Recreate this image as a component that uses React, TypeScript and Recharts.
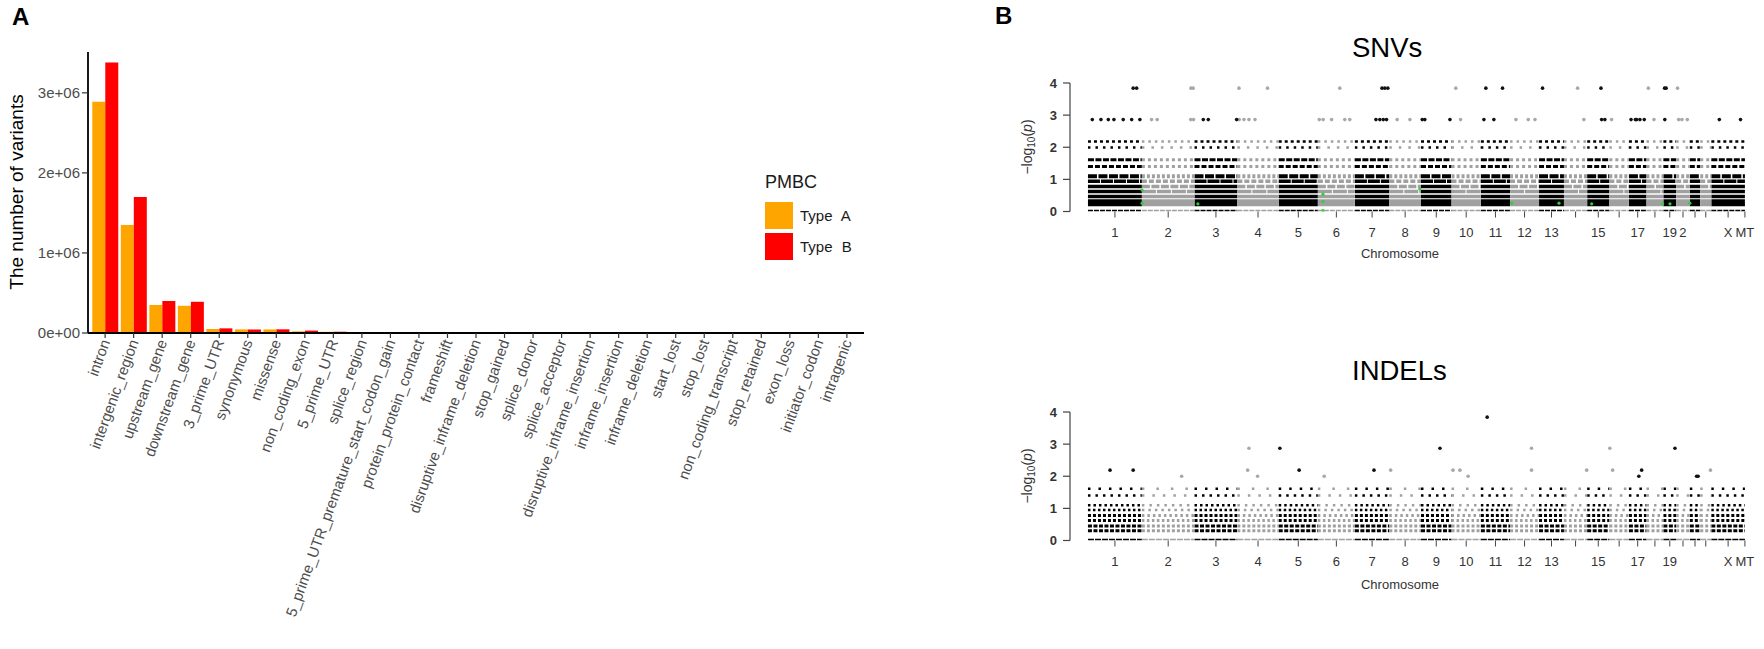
import React from "react";
import {
  BarChart,
  Bar,
  XAxis,
  YAxis,
  Legend,
  ComposedChart,
  Line,
  Scatter,
} from "recharts";

// ---- Panel A: variant classes ----
const VARIANT_CLASSES = [
  "intron",
  "intergenic_region",
  "upstream_gene",
  "downstream_gene",
  "3_prime_UTR",
  "synonymous",
  "missense",
  "non_coding_exon",
  "5_prime_UTR",
  "splice_region",
  "5_prime_UTR_premature_start_codon_gain",
  "protein_protein_contact",
  "frameshift",
  "disruptive_inframe_deletion",
  "stop_gained",
  "splice_donor",
  "splice_acceptor",
  "disruptive_inframe_insertion",
  "inframe_insertion",
  "inframe_deletion",
  "start_lost",
  "stop_lost",
  "non_coding_transcript",
  "stop_retained",
  "exon_loss",
  "initiator_codon",
  "intragenic",
];
const TYPE_A_COUNTS = [
  2890000, 1350000, 350000, 340000, 50000, 45000, 45000, 21000, 15000, 9000,
  3000, 1500, 1200, 300, 500, 500, 400, 200, 150, 150, 80, 60, 50, 40, 20, 10, 5,
];
const TYPE_B_COUNTS = [
  3380000, 1700000, 400000, 390000, 58000, 44000, 46000, 30000, 16000, 10000,
  3500, 1800, 1400, 400, 600, 550, 450, 250, 200, 200, 100, 70, 60, 50, 25, 12, 6,
];
const COUNT_TICKS = [0, 1000000, 2000000, 3000000];

// ---- Panel B: chromosomes (hg19 lengths, Mb) ----
const CHROMOSOMES = [
  "1", "2", "3", "4", "5", "6", "7", "8", "9", "10", "11", "12",
  "13", "14", "15", "16", "17", "18", "19", "20", "21", "22", "X", "MT",
];
const CHROM_LENGTH_MB = [
  249.25, 243.2, 198.02, 191.15, 180.92, 171.12, 159.14, 146.36, 141.21,
  135.53, 135.01, 133.85, 115.17, 107.35, 102.53, 90.35, 81.2, 78.08, 59.13,
  63.03, 48.13, 51.3, 155.27, 0.02,
];
const SNV_TICK_LABELS = [
  "1", "2", "3", "4", "5", "6", "7", "8", "9", "10", "11", "12",
  "13", "", "15", "", "17", "", "19", "2", "", "", "X", "MT",
];
const INDEL_TICK_LABELS = [
  "1", "2", "3", "4", "5", "6", "7", "8", "9", "10", "11", "12",
  "13", "", "15", "", "17", "", "19", "", "", "", "X", "MT",
];
const P_TICKS = [0, 1, 2, 3, 4];

// -log10(p) levels that form dense stripes in every chromosome
const SNV_BAND_LEVELS = [0.03, 0.27, 0.47, 0.62, 0.78, 0.94, 1.1, 1.4, 1.61, 1.99, 2.18];
const INDEL_BAND_LEVELS = [0.03, 0.3, 0.45, 0.62, 0.78, 0.95, 1.1, 1.4, 1.61];

// isolated points: [cumulative position (Mb), -log10(p)]
const SNV_SPARSE: [number, number][] = [
  [209, 3.84], [225, 3.84], [476, 3.84], [486, 3.84], [698, 3.84], [830, 3.84],
  [1164, 3.84], [1359, 3.84], [1372, 3.84], [1386, 3.84], [1700, 3.84],
  [1839, 3.84], [1916, 3.84], [2101, 3.84], [2263, 3.84], [2371, 3.84],
  [2590, 3.84], [2665, 3.84], [2672, 3.84], [2725, 3.84],
  [20, 2.86], [60, 2.86], [94, 2.86], [120, 2.86], [163, 2.86], [202, 2.86],
  [240, 2.86], [294, 2.86], [320, 2.86], [475, 2.86], [488, 2.86], [533, 2.86],
  [556, 2.86], [687, 2.86], [699, 2.86], [721, 2.86], [744, 2.86], [772, 2.86],
  [1069, 2.86], [1087, 2.86], [1126, 2.86], [1187, 2.86], [1210, 2.86],
  [1331, 2.86], [1349, 2.86], [1365, 2.86], [1380, 2.86], [1429, 2.86],
  [1488, 2.86], [1545, 2.86], [1557, 2.86], [1673, 2.86], [1722, 2.86],
  [1830, 2.86], [1876, 2.86], [1978, 2.86], [2035, 2.86], [2066, 2.86],
  [2292, 2.86], [2374, 2.86], [2389, 2.86], [2420, 2.86], [2510, 2.86],
  [2530, 2.86], [2536, 2.86], [2551, 2.86], [2571, 2.86], [2616, 2.86],
  [2666, 2.86], [2730, 2.86], [2745, 2.86], [2770, 2.86], [2918, 2.86],
  [3016, 2.86],
];
const SNV_HIGHLIGHT: [number, number][] = [
  [250, 0.67], [250, 0.26], [508, 0.24], [1086, 0.54], [1086, 0.31],
  [1086, 0.03], [1534, 0.7], [1958, 0.26], [2177, 0.26], [2328, 0.24],
  [2656, 0.24], [2690, 0.24], [2782, 0.26],
];
const INDEL_SPARSE: [number, number][] = [
  [1845, 3.84],
  [744, 2.87], [887, 2.87], [1627, 2.87], [2050, 2.87], [2412, 2.87], [2713, 2.87],
  [102, 2.19], [209, 2.19], [738, 2.19], [976, 2.19], [1322, 2.19], [1399, 2.19],
  [1687, 2.19], [1719, 2.19], [2050, 2.19], [2305, 2.19], [2425, 2.19],
  [2559, 2.19], [2877, 2.19],
  [433, 2.0], [784, 2.0], [1092, 2.0], [1757, 2.0], [2546, 2.0], [2813, 2.0],
  [2820, 2.0],
];

const CHROM_START: number[] = [];
CHROM_LENGTH_MB.reduce((acc, len, i) => {
  CHROM_START[i] = acc;
  return acc + len;
}, 0);
const CHROM_CENTER = CHROM_LENGTH_MB.map((len, i) => CHROM_START[i] + len / 2);

const BLACK = "#000000";
const GREY = "#a0a0a0";
const FONT = "'Liberation Sans', Arial, Helvetica, sans-serif";

// stripe styles (stroke width, dash for black / grey chromosomes)
const SNV_STYLE = [
  { w: 1.8, b: "5 1", g: "5 1" },
  { w: 7 },
  { w: 3.5 },
  { w: 3.5, g: "14 1" },
  { w: 3.5, g: "8 1.5" },
  { w: 3.5, b: "12 1", g: "5 2" },
  { w: 4, b: "9 1.5", g: "3 2" },
  { w: 3, b: "5 2", g: "3 3" },
  { w: 3, b: "6 1.5", g: "3 3" },
  { w: 2.5, b: "2.5 5", g: "2.5 7" },
  { w: 2.5, b: "3 3", g: "2.5 4" },
];
const INDEL_STYLE = [
  { w: 1.8, b: "6 1", g: "6 1" },
  { w: 3, b: "4 1.5", g: "3 2" },
  { w: 3, b: "4 1.5", g: "3 2" },
  { w: 3, b: "3 2", g: "2.5 2.5" },
  { w: 3, b: "3 2", g: "2.5 3" },
  { w: 2.5, b: "2.5 2.5", g: "2.5 4" },
  { w: 2.5, b: "2.5 3", g: "2.5 5" },
  { w: 2.5, b: "2.5 5", g: "2.5 8" },
  { w: 2.5, b: "2.5 8", g: "2.5 12" },
];

function chromIndexOf(pos: number) {
  for (let i = CHROM_START.length - 1; i >= 0; i--) {
    if (pos >= CHROM_START[i]) return i;
  }
  return 0;
}

function bandSegments(level: number, parity: number) {
  const pts: { x: number; y: number | null }[] = [];
  CHROM_LENGTH_MB.forEach((len, i) => {
    if (i % 2 !== parity || len < 1) return;
    const s = CHROM_START[i];
    pts.push({ x: s, y: level }, { x: s + len, y: level }, { x: s + len, y: null });
  });
  return pts;
}

const toPoints = (list: [number, number][]) => list.map(([x, y]) => ({ x, y }));

const dotShape = (fill: string, r: number) => (props: any) =>
  <circle cx={props.cx} cy={props.cy} r={r} fill={fill} />;

function VariantTick({ x, y, payload }: any) {
  return (
    <text
      x={x}
      y={y}
      transform={`rotate(-70 ${x} ${y})`}
      textAnchor="end"
      dominantBaseline="central"
      fontSize={15}
      fill="#4d4d4d"
    >
      {payload.value}
    </text>
  );
}

function PmbcLegend({ payload }: any) {
  return (
    <svg width={110} height={100} style={{ display: "block", overflow: "visible" }}>
      <text x={0} y={20} fontSize={18} fill="#1a1a1a">
        PMBC
      </text>
      {(payload || []).map((item: any, i: number) => (
        <g key={item.value}>
          <rect x={0} y={34 + i * 31} width={28} height={27} fill={item.color} />
          <text
            x={35}
            y={48 + i * 31}
            dy="0.35em"
            fontSize={15}
            fill="#1a1a1a"
            wordSpacing={5}
          >
            {item.value}
          </text>
        </g>
      ))}
    </svg>
  );
}

function VariantBars() {
  const data = VARIANT_CLASSES.map((name, i) => ({
    name,
    a: TYPE_A_COUNTS[i],
    b: TYPE_B_COUNTS[i],
  }));
  return (
    <BarChart
      width={880}
      height={649}
      data={data}
      margin={{ top: 52, right: 16, bottom: 0, left: 28 }}
      barCategoryGap="5%"
      barGap={0}
    >
      <XAxis
        dataKey="name"
        interval={0}
        height={316}
        padding={{ left: 2.85, right: 2.85 }}
        tickSize={5}
        tickMargin={2}
        axisLine={{ stroke: "#000", strokeWidth: 1.8 }}
        tickLine={{ stroke: "#333", strokeWidth: 1.2 }}
        tick={<VariantTick />}
      />
      <YAxis
        width={60}
        domain={[0, 3510000]}
        ticks={COUNT_TICKS}
        allowDataOverflow
        tickSize={6}
        tickMargin={2}
        tickFormatter={(v: number) => (v === 0 ? "0e+00" : `${v / 1000000}e+06`)}
        axisLine={{ stroke: "#000", strokeWidth: 1.8 }}
        tickLine={{ stroke: "#333", strokeWidth: 1.2 }}
        tick={{ fontSize: 15, fill: "#4d4d4d" }}
      />
      <Legend
        layout="horizontal"
        verticalAlign="middle"
        align="center"
        content={<PmbcLegend />}
        wrapperStyle={{ position: "absolute", left: 765, top: 168, width: 110, height: 100 }}
      />
      <Bar dataKey="a" name="Type A" fill="#FFA500" isAnimationActive={false} />
      <Bar dataKey="b" name="Type B" fill="#FF0000" isAnimationActive={false} />
    </BarChart>
  );
}

function Manhattan({
  levels,
  styles,
  sparse,
  highlight,
  labels,
}: {
  levels: number[];
  styles: { w: number; b?: string; g?: string }[];
  sparse: [number, number][];
  highlight: [number, number][];
  labels: string[];
}) {
  const blackPts = toPoints(sparse.filter(([x]) => chromIndexOf(x) % 2 === 0));
  const greyPts = toPoints(sparse.filter(([x]) => chromIndexOf(x) % 2 === 1));
  return (
    <ComposedChart
      width={764}
      height={202}
      margin={{ top: 23, right: 4, bottom: 4, left: 30 }}
    >
      <XAxis
        type="number"
        dataKey="x"
        domain={[-83, 3106]}
        allowDataOverflow
        ticks={CHROM_CENTER}
        interval={0}
        height={46.5}
        tickSize={6}
        tickMargin={10}
        axisLine={false}
        tickLine={{ stroke: "#444", strokeWidth: 1 }}
        tick={(p: any) => (
          <text x={p.x} y={p.y} dy="0.71em" textAnchor="middle" fontSize={13} fill="#333">
            {labels[p.index]}
          </text>
        )}
      />
      <YAxis
        type="number"
        dataKey="y"
        domain={[0, 4]}
        ticks={P_TICKS}
        allowDataOverflow
        width={40}
        tickSize={7}
        tickMargin={6}
        axisLine={{ stroke: "#444", strokeWidth: 1.2 }}
        tickLine={{ stroke: "#444", strokeWidth: 1.2 }}
        tick={{ fontSize: 13, fill: "#333", fontWeight: 700 }}
      />
      {levels.map((lvl, i) =>
        [0, 1].map((parity) => (
          <Line
            key={`band-${i}-${parity}`}
            data={bandSegments(lvl, parity)}
            dataKey="y"
            type="linear"
            stroke={parity === 0 ? BLACK : GREY}
            strokeWidth={styles[i].w}
            strokeDasharray={parity === 0 ? styles[i].b : styles[i].g}
            dot={false}
            activeDot={false}
            connectNulls={false}
            legendType="none"
            isAnimationActive={false}
          />
        ))
      )}
      <Scatter data={greyPts} dataKey="y" shape={dotShape("#a8a8a8", 1.8)} isAnimationActive={false} />
      <Scatter data={blackPts} dataKey="y" shape={dotShape("#111", 1.8)} isAnimationActive={false} />
      <Scatter data={toPoints(highlight)} dataKey="y" shape={dotShape("#2fcf3a", 1.6)} isAnimationActive={false} />
    </ComposedChart>
  );
}

function PLabel({ cx, cy }: { cx: number; cy: number }) {
  return (
    <text transform={`translate(${cx} ${cy}) rotate(-90)`} textAnchor="middle" fontSize={14} fill="#333">
      −log<tspan fontSize={10} dy={3}>10</tspan>
      <tspan dy={-3}>(</tspan>
      <tspan fontStyle="italic">p</tspan>)
    </text>
  );
}

export default function App() {
  return (
    <div
      style={{
        position: "relative",
        width: 1764,
        height: 649,
        background: "#fff",
        fontFamily: FONT,
        overflow: "hidden",
      }}
    >
      <style>{"body{margin:0}"}</style>
      <div style={{ position: "absolute", left: 0, top: 0 }}>
        <VariantBars />
      </div>
      <div style={{ position: "absolute", left: 1000, top: 60 }}>
        <Manhattan
          levels={SNV_BAND_LEVELS}
          styles={SNV_STYLE}
          sparse={SNV_SPARSE}
          highlight={SNV_HIGHLIGHT}
          labels={SNV_TICK_LABELS}
        />
      </div>
      <div style={{ position: "absolute", left: 1000, top: 389 }}>
        <Manhattan
          levels={INDEL_BAND_LEVELS}
          styles={INDEL_STYLE}
          sparse={INDEL_SPARSE}
          highlight={[]}
          labels={INDEL_TICK_LABELS}
        />
      </div>
      <svg
        width={1764}
        height={649}
        style={{ position: "absolute", left: 0, top: 0, pointerEvents: "none" }}
      >
        <text x={12} y={25} fontSize={24} fontWeight={700} fill="#000">A</text>
        <text x={995} y={24} fontSize={24} fontWeight={700} fill="#000">B</text>
        <text
          transform="translate(23 192) rotate(-90)"
          textAnchor="middle"
          fontSize={19}
          fill="#000"
        >
          The number of variants
        </text>
        <text x={1352} y={57} fontSize={27.5} fill="#000">SNVs</text>
        <text x={1352} y={380} fontSize={27.5} fill="#000">INDELs</text>
        <text x={1400} y={258} textAnchor="middle" fontSize={13} fill="#333">Chromosome</text>
        <text x={1400} y={589} textAnchor="middle" fontSize={13} fill="#333">Chromosome</text>
        <PLabel cx={1032} cy={147} />
        <PLabel cx={1032} cy={476} />
      </svg>
    </div>
  );
}
